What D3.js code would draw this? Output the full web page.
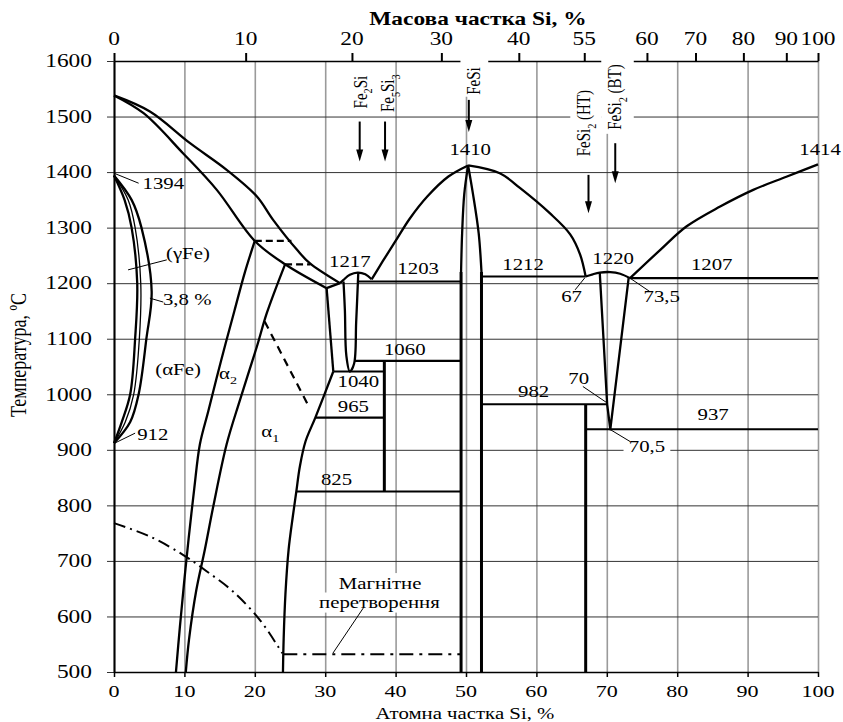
<!DOCTYPE html>
<html>
<head>
<meta charset="utf-8">
<script src="https://cdn.jsdelivr.net/npm/d3@7/dist/d3.min.js"></script>
<style>
  body { margin: 0; background: #fff; }
  svg { display: block; }
  text { font-family: "Liberation Serif", "Times New Roman", serif; fill: #000; }
</style>
</head>
<body>
<svg id="chart" width="843" height="722"></svg>
<script>
// ---- axes ----
const atTicks = [0, 10, 20, 30, 40, 50, 60, 70, 80, 90, 100];
const tempTicks = [500, 600, 700, 800, 900, 1000, 1100, 1200, 1300, 1400, 1500, 1600];
// top axis: mass % labels and where they sit on the atomic % scale
const massLabels = ["0", "10", "20", "30", "40", "55", "60", "70", "80", "90", "100"];
const massAt = [0, 18.7, 33.8, 46.5, 57.5, 66.8, 75.7, 82.6, 89.4, 95.5, 100];

// ---- phase boundaries [at.% Si, °C] ----
const liquidusFe = [[0, 1538], [5.1, 1509], [10.8, 1452], [16, 1404], [20.3, 1356], [22.6, 1314], [26, 1260], [27.8, 1236], [32.1, 1200]];
const solidusFe = [[0, 1538], [4.2, 1506], [9.8, 1434], [14.6, 1368], [20, 1276], [24.3, 1234], [30.2, 1191]];
const eutecticLeg = [[30.2, 1191], [32.1, 1200]];
const gammaInner = [[0, 1394], [1.5, 1350], [2.5, 1300], [3.3, 1200], [3.0, 1100], [2.3, 1000], [1.1, 950], [0, 912]];
const gammaMid = [[0, 1394], [2.0, 1350], [3.0, 1300], [3.8, 1200], [3.6, 1100], [2.8, 1000], [1.6, 950], [0, 912]];
const gammaOuter = [[0, 1394], [2.5, 1350], [3.9, 1300], [5.35, 1185], [4.6, 1100], [3.5, 1000], [2.3, 950], [0, 912]];
const alpha2Line = [[20, 1276], [18.6, 1220], [17.1, 1150], [15.2, 1060], [13.4, 970], [12.2, 910], [11.4, 830], [10.6, 740], [9.95, 660], [9.35, 580], [8.8, 500]];
const alpha1Line = [[24.3, 1234], [21.7, 1146], [20.3, 1086], [17.9, 990], [16.0, 910], [14.1, 798], [12.9, 720], [11.7, 648], [10.65, 558], [10.2, 500]];
const do3Line = [[31.15, 1041], [28.6, 958], [27.2, 915], [26.4, 870], [25.9, 825], [25.4, 780], [24.8, 720], [24.35, 640], [24.1, 560], [24.0, 500]];
const alphaSolvus = [[30.2, 1191], [31.15, 1041]];
const dash1276 = [[20, 1276], [25.2, 1276]];
const dash1234 = [[24.3, 1234], [27.9, 1234]];
const dashDiag = [[21.4, 1131], [27.8, 975]];
const fe2siArc = [[32.1, 1200], [32.6, 1206], [33.5, 1215], [34.6, 1219], [35.7, 1216], [36.6, 1207]];
const fe2siOval = [[32.6, 1203], [32.8, 1150], [33.0, 1070], [33.5, 1041], [34.1, 1055], [34.4, 1130], [34.7, 1219]];
const liquidusFeSiL = [[36.6, 1207], [38.2, 1240], [40, 1276], [42, 1316], [44.5, 1356], [47.5, 1392], [50.3, 1412]];
const liquidusFeSiR = [[50.3, 1412], [54.8, 1398], [57.7, 1371], [61.9, 1326], [64.8, 1288], [66.2, 1252], [67, 1212]];
const fesiLeft = [[50.3, 1412], [49.75, 1360], [49.45, 1290], [49.3, 1220]];
const fesiRight = [[50.3, 1412], [51.0, 1360], [51.8, 1290], [52.2, 1220]];
const fesiLeftV = [[49.3, 1220], [49.3, 500]];
const fesiRightV = [[52.2, 1220], [52.2, 500]];
const fesi2Hump = [[67, 1212], [68, 1216], [69, 1219], [70.5, 1220], [71.9, 1217], [73.3, 1209]];
const fesi2HT = [[69, 1219], [70.05, 982], [70.5, 937], [73.1, 1209]];
const liquidusSi = [[73.3, 1209], [77.6, 1260], [81.3, 1302], [86.1, 1338], [90.8, 1368], [95.6, 1392], [100, 1414]];
const fe5si3 = [[38.4, 1060], [38.4, 825]];
const betaFeSi2 = [[67, 982], [67, 500]];
const magneticCurve = [[0, 768], [5.1, 744], [9.8, 711], [13.2, 681], [16.9, 645], [20.7, 594], [23.3, 546], [23.9, 534]];
const magneticFlat = [[24.05, 532], [49.3, 532]];
// horizontal invariants: [from at.%, to at.%, °C]
const isotherms = [
  [34.7, 49.3, 1203], [34.2, 49.3, 1060], [31.15, 38.4, 1041], [28.6, 38.4, 958], [25.9, 49.3, 825],
  [52.2, 67, 1212], [73.3, 100, 1209], [52.2, 70.05, 982], [67, 100, 937]
];

// ---- scales ----
const svg = d3.select("#chart");
const x = d3.scaleLinear().domain([0, 100]).range([114, 818]);
const y = d3.scaleLinear().domain([500, 1600]).range([672, 61]);
const SX = 1.3; // the source art is stretched horizontally

const gridLayer = svg.append("g");
const bgLayer = svg.append("g");
const lineLayer = svg.append("g");
const textLayer = svg.append("g");

// vertical grid
gridLayer.append("g")
  .attr("transform", `translate(0,${y(500)})`)
  .call(d3.axisBottom(x).tickValues(atTicks).tickSize(-(y(500) - y(1600))).tickFormat(""))
  .call(g => g.select(".domain").remove())
  .call(g => g.selectAll(".tick line").attr("stroke", "#9a9a9a").attr("stroke-width", 1.6));

// horizontal grid (with left ticks)
gridLayer.append("g")
  .attr("transform", `translate(${x(0)},0)`)
  .call(d3.axisLeft(y).tickValues(tempTicks).tickSize(-(x(100) - x(0))).tickFormat(""))
  .call(g => g.select(".domain").remove())
  .call(g => g.selectAll(".tick line").attr("x1", -7).attr("stroke", "#333").attr("stroke-width", 1));

// bottom axis
lineLayer.append("g")
  .attr("transform", `translate(0,${y(500)})`)
  .call(d3.axisBottom(x).tickValues(atTicks).tickSize(5).tickSizeOuter(0).tickFormat(""))
  .call(g => g.select(".domain").attr("stroke-width", 1.5))
  .call(g => g.selectAll(".tick line").attr("stroke-width", 1.5));

// top axis (mass %)
gridLayer.append("g")
  .attr("transform", `translate(0,${y(1600)})`)
  .call(d3.axisTop(x).tickValues(massAt).tickSize(8).tickSizeOuter(0).tickFormat(""))
  .call(g => g.select(".domain").attr("stroke-width", 1.5))
  .call(g => g.selectAll(".tick line").attr("stroke-width", 2));

// left axis line
lineLayer.append("g")
  .attr("transform", `translate(${x(0)},0)`)
  .call(d3.axisLeft(y).tickValues([]).tickSizeOuter(0))
  .call(g => g.select(".domain").attr("stroke-width", 2));

// ---- helpers ----
const smooth = d3.line().x(d => x(d[0])).y(d => y(d[1])).curve(d3.curveCatmullRom.alpha(0.5));
const straight = d3.line().x(d => x(d[0])).y(d => y(d[1]));

function draw(pts, gen, w, dash) {
  lineLayer.append("path")
    .attr("d", gen(pts))
    .attr("fill", "none")
    .attr("stroke", "#000")
    .attr("stroke-width", w || 2.3)
    .attr("stroke-dasharray", dash || null)
    .attr("stroke-linejoin", "round");
}

function label(str, px, py, o = {}) {
  const size = o.size || 16;
  const tf = `translate(${px},${py}) scale(${SX},1)` + (o.rot ? " rotate(-90)" : "");
  const g = textLayer.append("g").attr("transform", tf);
  const t = g.append("text")
    .attr("text-anchor", o.anchor || "middle")
    .attr("dy", "0.35em")
    .style("font-size", size + "px")
    .style("font-weight", o.bold ? "bold" : null);
  const segs = Array.isArray(str) ? str : [[str]];
  let low = false;
  segs.forEach(([s, sub]) => {
    const ts = t.append("tspan").text(s);
    if (sub && !low) { ts.attr("dy", size * 0.3).style("font-size", size * 0.68 + "px"); low = true; }
    else if (sub) ts.style("font-size", size * 0.68 + "px");
    else if (low) { ts.attr("dy", -size * 0.3); low = false; }
  });
  if (o.bg) {
    const b = t.node().getBBox();
    const p = Object.assign({ x0: 2, x1: 2, y0: 1, y1: 1 }, o.bg === true ? {} : o.bg);
    bgLayer.append("g").attr("transform", tf).append("rect")
      .attr("x", b.x - p.x0).attr("y", b.y - p.y0)
      .attr("width", b.width + p.x0 + p.x1).attr("height", b.height + p.y0 + p.y1)
      .attr("fill", "#fff");
  }
  return t;
}

function pointer(a, b) {
  lineLayer.append("line")
    .attr("x1", x(a[0])).attr("y1", y(a[1]))
    .attr("x2", x(b[0])).attr("y2", y(b[1]))
    .attr("stroke", "#000").attr("stroke-width", 1);
}

function arrow(at, t0, t1) {
  const px = x(at), y0 = y(t0), y1 = y(t1);
  lineLayer.append("line")
    .attr("x1", px).attr("y1", y0).attr("x2", px).attr("y2", y1 - 8)
    .attr("stroke", "#000").attr("stroke-width", 2);
  lineLayer.append("path")
    .attr("d", `M${px - 3.5},${y1 - 12}L${px + 3.5},${y1 - 12}L${px},${y1}Z`)
    .attr("fill", "#000");
}

// ---- phase lines ----
[liquidusFe, solidusFe, gammaInner, gammaOuter, alpha2Line, alpha1Line, do3Line,
 fe2siArc, fe2siOval, liquidusFeSiL, liquidusFeSiR, fesiLeft, fesiRight, fesi2Hump, liquidusSi]
  .forEach(p => draw(p, smooth));
draw(gammaMid, smooth, 1.3);
[eutecticLeg, alphaSolvus, fesi2HT].forEach(p => draw(p, straight));
[fesiLeftV, fesiRightV, fe5si3, betaFeSi2].forEach(p => draw(p, straight, 3));
isotherms.forEach(([a, b, t]) => draw([[a, t], [b, t]], straight, 2.2));
draw(dash1276, straight, 2.2, "7,4");
draw(dash1234, straight, 2.2, "7,4");
draw(dashDiag, straight, 2.2, "8,6");
draw(magneticCurve, smooth, 2, "12,5,2,5");
draw(magneticFlat, straight, 2, "14,6,3,6");

// ---- arrows to compounds ----
arrow(34.9, 1491, 1419);
arrow(38.5, 1491, 1419);
arrow(50.4, 1530, 1472);
arrow(67.4, 1395, 1326);
arrow(71.2, 1452, 1380);

// ---- tick labels ----
atTicks.forEach(v => label(String(v), x(v), 691, { size: 17 }));
tempTicks.forEach(v => label(String(v), 92, y(v), { size: 18, anchor: "end" }));
massAt.forEach((v, i) => label(massLabels[i], x(v), 39, { size: 18 }));

// ---- titles ----
label("Масова частка Si, %", 478, 19, { size: 18, bold: true });
label("Атомна частка Si, %", 465, 713, { size: 16 });
label("Температура, ºС", 18, 355, { size: 18, rot: true });

// ---- compound labels ----
label([["Fe"], ["2", 1], ["Si"]], x(34.9), y(1544), { size: 15, rot: true });
label([["Fe"], ["5", 1], ["Si"], ["3", 1]], x(38.8), y(1542), { size: 15, rot: true });
label("FeSi", x(51.0), y(1564), { size: 15, rot: true, bg: { x1: 10, y0: 2, y1: 3 } });
label([["FeSi"], ["2", 1], [" (HT)"]], x(66.6), y(1488), { size: 15, rot: true, bg: { x0: 4, x1: 4, y0: 2, y1: 2 } });
label([["FeSi"], ["2", 1], [" (BT)"]], x(71.0), y(1535), { size: 15, rot: true, bg: { x0: 4, x1: 10, y0: 2, y1: 3 } });

// ---- temperatures and compositions ----
label("1394", x(7.0), y(1380));
pointer([0, 1398], [3.5, 1380]);
label("(γFe)", x(10.5), y(1254));
pointer([2.0, 1224], [7.5, 1242]);
label("3,8 %", x(10.4), y(1170));
pointer([5.1, 1173], [7.0, 1166]);
label("912", x(5.5), y(927));
pointer([0.1, 912], [3.0, 930]);
label("(αFe)", x(9.1), y(1044));
label([["α"], ["2", 1]], x(16.2), y(1038));
label([["α"], ["1", 1]], x(22.2), y(933));
label("1217", x(33.5), y(1239));
label("1203", x(43.2), y(1227));
label("1060", x(41.3), y(1081));
label("1040", x(34.7), y(1023));
label("965", x(34.0), y(978));
label("825", x(31.6), y(847));
label("1410", x(50.6), y(1440));
label("1414", x(100.3), y(1440));
label("1212", x(58.1), y(1233));
label("1220", x(70.9), y(1245));
label("1207", x(84.9), y(1233));
label("67", x(65.0), y(1176));
pointer([65.5, 1188], [66.9, 1210]);
label("73,5", x(77.8), y(1176));
pointer([73.3, 1209], [76.1, 1185]);
label("70", x(66.0), y(1029));
pointer([66.6, 1014], [70.1, 984]);
label("982", x(59.6), y(1005));
label("937", x(85.1), y(963));
label("70,5", x(75.7), y(906), { bg: { x0: 4, x1: 4 } });
pointer([70.55, 936], [73.3, 915]);
label("Магнітне", x(37.8), y(660), { bg: true });
label("перетворення", x(37.7), y(625), { bg: true });
pointer([35.4, 615], [31.1, 534]);
</script>
</body>
</html>
